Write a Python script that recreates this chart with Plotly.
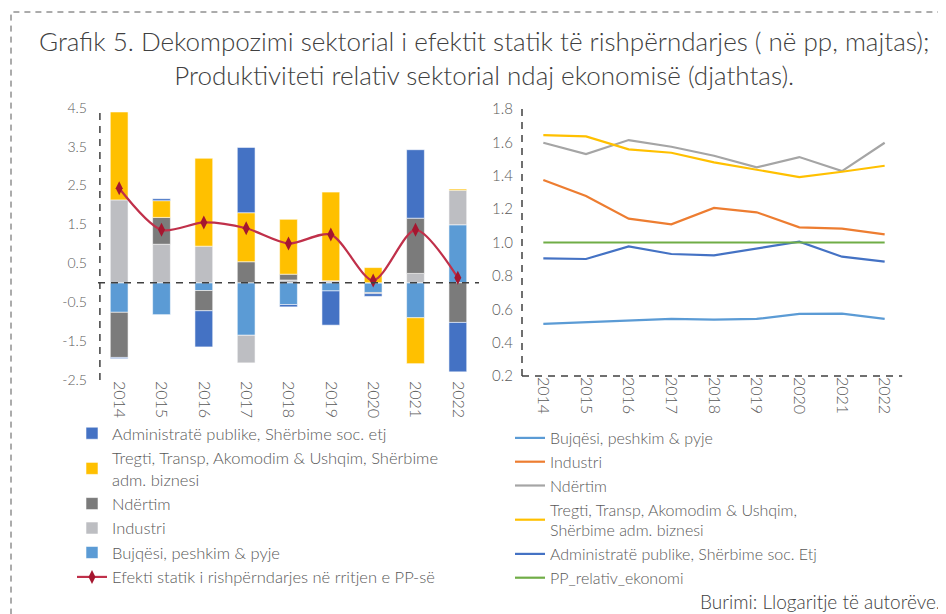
import plotly.graph_objects as go

# The page body adds an 8px margin; size the figure to fill the rest of the window.
OFF = 8
W, H = 946 - OFF, 614 - OFF

years = ["2014", "2015", "2016", "2017", "2018", "2019", "2020", "2021", "2022"]

# Left chart: sectoral decomposition of static reallocation effect (pp)
bujqesi_bar = [-0.76, -0.82, -0.20, -1.35, -0.56, -0.21, -0.25, -0.90, 1.49]
industri_bar = [2.13, 0.99, 0.94, -0.71, 0.07, 0.05, 0.00, 0.24, 0.89]
ndertim_bar = [-1.16, 0.69, -0.52, 0.54, 0.15, 0.00, -0.03, 1.42, -1.02]
tregti_bar = [2.26, 0.43, 2.26, 1.26, 1.41, 2.28, 0.39, -1.18, 0.03]
admin_bar = [-0.03, 0.05, -0.93, 1.68, -0.06, -0.88, -0.07, 1.76, -1.27]
efekti = [2.43, 1.36, 1.55, 1.40, 1.01, 1.24, 0.06, 1.36, 0.13]

# Right chart: relative sectoral productivity
bujqesi_rel = [0.512, 0.522, 0.530, 0.542, 0.538, 0.542, 0.572, 0.574, 0.542]
industri_rel = [1.375, 1.279, 1.143, 1.109, 1.207, 1.181, 1.091, 1.083, 1.049]
ndertim_rel = [1.598, 1.530, 1.614, 1.574, 1.520, 1.450, 1.512, 1.428, 1.598]
tregti_rel = [1.644, 1.636, 1.558, 1.538, 1.480, 1.434, 1.392, 1.424, 1.460]
admin_rel = [0.905, 0.901, 0.977, 0.931, 0.923, 0.965, 1.005, 0.915, 0.885]
pp_rel = [1.0] * 9

left_ticks = [4.5, 3.5, 2.5, 1.5, 0.5, -0.5, -1.5, -2.5]
right_ticks = [0.2, 0.4, 0.6, 0.8, 1.0, 1.2, 1.4, 1.6, 1.8]

C_ADMIN = "#4472C4"
C_TREGTI = "#FFC000"
C_NDERTIM = "#7B7B7B"
C_INDUSTRI = "#BDBEC2"
C_BUJQESI = "#5B9BD5"
C_ORANGE = "#ED7D31"
C_GREY = "#A5A5A5"
C_GREEN = "#70AD47"
C_RED = "#C0304A"

FONT = "Lato, 'Open Sans', sans-serif"
TXT = "#595959"
LIGHT = 300

fig = go.Figure()

bar_specs = [
    ("Bujqësi, peshkim & pyje", bujqesi_bar, C_BUJQESI, 5),
    ("Industri", industri_bar, C_INDUSTRI, 4),
    ("Ndërtim", ndertim_bar, C_NDERTIM, 3),
    ("Tregti, Transp, Akomodim & Ushqim, Shërbime<br>adm. biznesi", tregti_bar, C_TREGTI, 2),
    ("Administratë publike, Shërbime soc. etj", admin_bar, C_ADMIN, 1),
]
for name, vals, col, rank in bar_specs:
    fig.add_trace(go.Bar(
        x=years, y=vals, name=name,
        marker=dict(color=col, line=dict(color="rgba(255,255,255,0.7)", width=0.8)),
        width=0.42, xaxis="x", yaxis="y", legend="legend", legendrank=rank, legendgroup=name,
    ))

fig.add_trace(go.Scatter(
    x=years, y=efekti, name="Efekti statik i rishpërndarjes në rritjen e PP-së",
    mode="lines+markers", line=dict(color=C_RED, width=2.2, shape="spline", smoothing=0.8),
    marker=dict(symbol="diamond-tall", size=10, color="#A5162F"),
    xaxis="x", yaxis="y", legend="legend", legendrank=6, legendgroup="efekti",
))

line_specs = [
    ("Bujqësi, peshkim & pyje", bujqesi_rel, C_BUJQESI),
    ("Industri", industri_rel, C_ORANGE),
    ("Ndërtim", ndertim_rel, C_GREY),
    ("Tregti, Transp, Akomodim & Ushqim,<br>Shërbime adm. biznesi", tregti_rel, C_TREGTI),
    ("Administratë publike, Shërbime soc. Etj", admin_rel, C_ADMIN),
    ("PP_relativ_ekonomi", pp_rel, C_GREEN),
]
for i, (name, vals, col) in enumerate(line_specs):
    fig.add_trace(go.Scatter(
        x=years, y=vals, name=name, mode="lines", line=dict(color=col, width=2.2),
        xaxis="x2", yaxis="y2", legend="legend2", legendrank=i + 1, legendgroup="r" + str(i),
    ))


def px_x(p):
    return (p - OFF) / W


def px_y(p):
    return 1 - (p - OFF) / H


axis_common = dict(showgrid=False, zeroline=False, showline=False, ticks="", automargin=False)
tick_font = dict(family=FONT, size=14, color=TXT, weight=LIGHT)
xtick_font = dict(family=FONT, size=16, color=TXT, weight=LIGHT)

fig.update_layout(
    template="none",
    width=W, height=H,
    margin=dict(l=0, r=0, t=0, b=0, autoexpand=False),
    paper_bgcolor="white", plot_bgcolor="white",
    barmode="relative",
    font=dict(family=FONT, color=TXT, weight=LIGHT),
    xaxis=dict(domain=[px_x(98), px_x(479)], range=[-0.5, 8.5], type="category",
               tickangle=90, anchor="y", tickfont=xtick_font, **axis_common),
    yaxis=dict(domain=[px_y(380), px_y(107.7)], range=[-2.5, 4.5], tickvals=left_ticks,
               ticktext=[f"{v:.1f}" for v in left_ticks], ticklabelstandoff=10, anchor="x",
               tickfont=tick_font, **axis_common),
    xaxis2=dict(domain=[px_x(522), px_x(906)], range=[-0.5, 8.5], type="category",
                tickangle=90, anchor="y2", tickfont=xtick_font, **axis_common),
    yaxis2=dict(domain=[px_y(376), px_y(109)], range=[0.2, 1.8], tickvals=right_ticks,
                ticktext=[f"{v:.1f}" for v in right_ticks], ticklabelstandoff=8, anchor="x2",
                tickfont=dict(family=FONT, size=15, color=TXT, weight=LIGHT), **axis_common),
    legend=dict(x=px_x(72), y=px_y(416), xanchor="left", yanchor="top", bgcolor="rgba(0,0,0,0)",
                font=dict(family=FONT, size=16.5, color=TXT, weight=LIGHT), tracegroupgap=0,
                itemwidth=30, traceorder="normal"),
    legend2=dict(x=px_x(510), y=px_y(421), xanchor="left", yanchor="top", bgcolor="rgba(0,0,0,0)",
                 font=dict(family=FONT, size=16, color=TXT, weight=LIGHT), tracegroupgap=0,
                 itemwidth=30, traceorder="normal"),
    showlegend=True,
)

dash_col = "#404040"
shapes = [
    # outer dashed frame
    dict(type="rect", xref="paper", yref="paper", x0=px_x(11), x1=1.05, y0=-0.1, y1=px_y(12),
         line=dict(color="#595959", width=1, dash="6px,5px"), fillcolor="rgba(0,0,0,0)", layer="below"),
    # left y axis line
    dict(type="line", xref="x domain", yref="y domain", x0=0.005, x1=0.005, y0=0, y1=1,
         line=dict(color=dash_col, width=1.5, dash="7px,6px")),
    # left zero line
    dict(type="line", xref="x domain", yref="y", x0=0, x1=1, y0=0, y1=0,
         line=dict(color=dash_col, width=1.5, dash="7px,6px")),
    # right y axis line
    dict(type="line", xref="x2 domain", yref="y2 domain", x0=0, x1=0, y0=0, y1=1,
         line=dict(color=dash_col, width=1.5, dash="7px,6px")),
    # right x axis line
    dict(type="line", xref="x2 domain", yref="y2 domain", x0=0, x1=0.99, y0=0, y1=0,
         line=dict(color=dash_col, width=1.5, dash="7px,6px")),
]
fig.update_layout(shapes=shapes)

fig.add_annotation(
    text="Grafik 5. Dekompozimi sektorial i efektit statik të rishpërndarjes ( në pp, majtas);<br>"
         "Produktiviteti relativ sektorial ndaj ekonomisë (djathtas).",
    xref="paper", yref="paper", x=px_x(484), y=px_y(23), xanchor="center", yanchor="top",
    showarrow=False, align="center", font=dict(family=FONT, size=26, color="#404040", weight=LIGHT),
)
fig.add_annotation(
    text="Burimi: Llogaritje të autorëve.",
    xref="paper", yref="paper", x=px_x(942), y=px_y(601), xanchor="right", yanchor="middle",
    showarrow=False, font=dict(family=FONT, size=19, color="#404040", weight=LIGHT),
)

fig.write_html("out.html")
